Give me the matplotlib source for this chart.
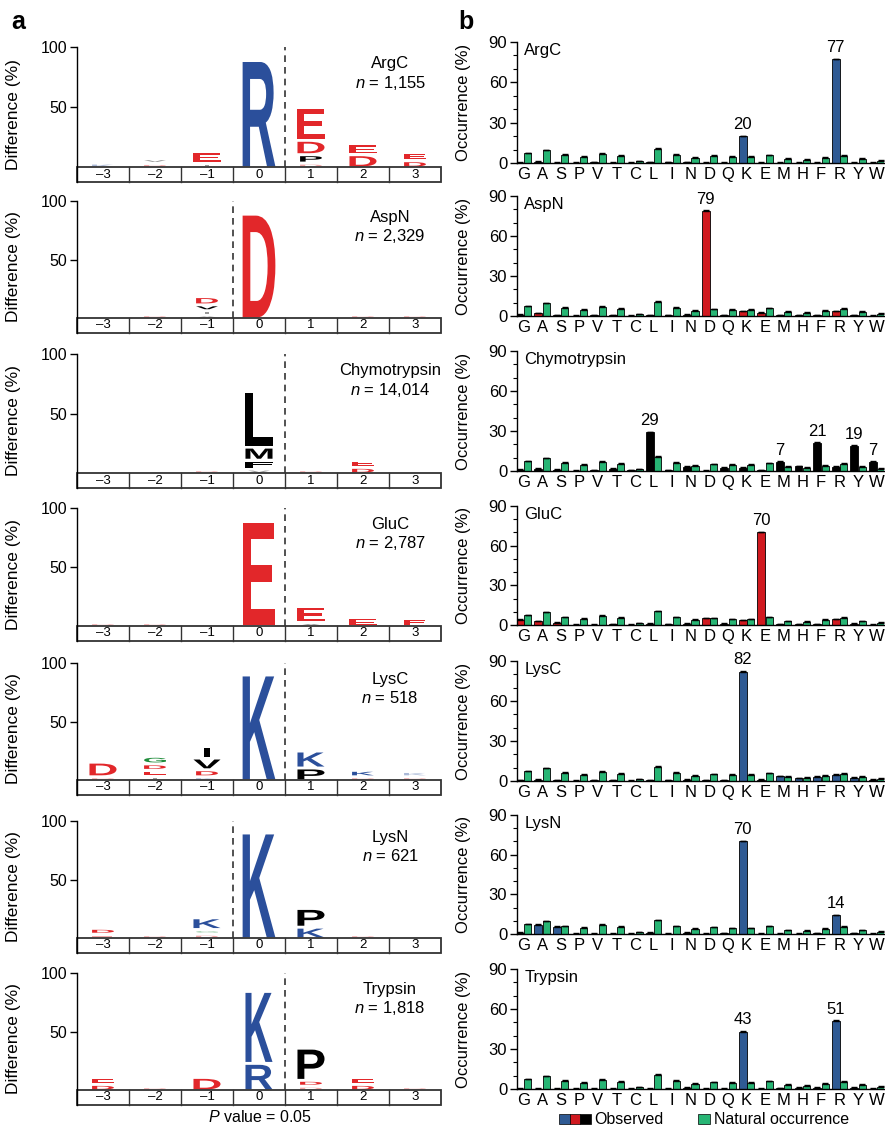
import matplotlib
matplotlib.use('Agg')
import matplotlib.pyplot as plt
from matplotlib.textpath import TextPath
from matplotlib.patches import PathPatch, Rectangle
from matplotlib.font_manager import FontProperties
from matplotlib.transforms import Affine2D
from matplotlib.ticker import MultipleLocator

plt.rcParams['font.family'] = ['Liberation Sans', 'DejaVu Sans']
plt.rcParams['mathtext.fontset'] = 'custom'
plt.rcParams['mathtext.it'] = 'Liberation Sans:italic'
plt.rcParams['mathtext.rm'] = 'Liberation Sans'

# ---- data ----
enzymes = ['ArgC', 'AspN', 'Chymotrypsin', 'GluC', 'LysC', 'LysN', 'Trypsin']
counts = ['1,155', '2,329', '14,014', '2,787', '518', '621', '1,818']
cut_site = [0.5, -0.5, 0.5, 0.5, 0.5, -0.5, 0.5]
positions = [-3, -2, -1, 0, 1, 2, 3]

# logo stacks, bottom to top: (residue, difference %)
logo_argc = {-3: [('K', 1.5)], -2: [('D', 1.2), ('V', 1.5)], -1: [('I', 1.5), ('E', 7)],
             0: [('R', 87)], 1: [('D', 1.5), ('P', 4.5), ('D', 9.5), ('E', 25)],
             2: [('D', 8.5), ('E', 6.5)], 3: [('D', 3.5), ('E', 4.5)]}
logo_aspn = {-2: [('D', 1)], -1: [('A', 0.8), ('I', 1.2), ('V', 2.5), ('D', 4.5)],
             0: [('D', 87)], 2: [('D', 1)], 3: [('D', 1)]}
logo_chymo = {-1: [('D', 1)], 0: [('V', 1.5), ('F', 5), ('M', 8.5), ('L', 44)],
              1: [('D', 1)], 2: [('D', 3), ('E', 3.5)]}
logo_gluc = {-3: [('D', 1)], -2: [('D', 1)], 0: [('E', 87)],
             1: [('A', 1.2), ('E', 11)], 2: [('E', 5.5)], 3: [('E', 4.5)]}
logo_lysc = {-3: [('D', 1), ('D', 10)], -2: [('I', 1.5), ('E', 2.5), ('D', 3), ('G', 4)],
             -1: [('K', 1), ('D', 3.5), ('V', 7.5), ('I', 7)], 0: [('K', 88)],
             1: [('P', 8.5), ('K', 12)], 2: [('D', 1), ('K', 3)], 3: [('D', 1), ('K', 2)]}
logo_lysn = {-3: [('E', 1.5), ('D', 2.5)], -2: [('D', 1)],
             -1: [('D', 1.5), ('G', 1.5), ('K', 7.5)], 0: [('K', 88)],
             1: [('K', 7.5), ('P', 13.5)], 2: [('D', 1)]}
logo_tryp = {-3: [('D', 3), ('E', 3.5)], -2: [('D', 1)], -1: [('D', 9)],
             0: [('R', 21), ('K', 59)], 1: [('D', 1.5), ('D', 2.5), ('P', 25)],
             2: [('D', 3), ('E', 3.5)], 3: [('D', 1)]}
logos = [logo_argc, logo_aspn, logo_chymo, logo_gluc, logo_lysc, logo_lysn, logo_tryp]

amino = list('GASPVTCLINDQKEMHFRYW')
natural = [7.3, 9.5, 6.0, 4.7, 7.0, 5.5, 1.3, 10.5, 6.0, 4.0, 5.2, 4.5, 4.5, 5.8, 3.0, 2.5, 4.0, 5.5, 3.0, 1.5]
obs_argc = [0.3, 1.0, 0.3, 0.2, 0.5, 0.3, 0.2, 0.5, 0.5, 0.7, 0.2, 0.2, 20, 0.3, 0.2, 0.2, 0.2, 77, 0.2, 0.2]
obs_aspn = [1.0, 2.0, 0.5, 0.3, 0.5, 0.5, 0.3, 0.5, 0.5, 1.0, 79, 0.5, 3.5, 2.5, 0.5, 0.5, 0.5, 3.5, 0.5, 0.3]
obs_chymo = [0.8, 1.5, 0.8, 0.3, 0.7, 1.5, 0.7, 29, 0.7, 3.0, 0.3, 2.5, 2.5, 0.7, 7, 3.5, 21, 3.0, 19, 7]
obs_gluc = [4.0, 3.0, 1.5, 0.3, 0.3, 0.5, 0.3, 1.0, 0.5, 1.0, 5.0, 1.0, 3.5, 70, 0.5, 0.7, 0.5, 4.5, 0.8, 0.3]
obs_lysc = [0.5, 0.8, 0.5, 0.3, 0.5, 0.5, 0.3, 0.7, 0.5, 1.0, 0.5, 0.5, 82, 0.8, 3.5, 2.0, 3.0, 4.5, 2.5, 1.0]
obs_lysn = [1.0, 7.0, 5.5, 0.3, 0.3, 0.3, 0.2, 1.0, 0.3, 1.0, 0.3, 0.5, 70, 0.3, 0.3, 0.3, 0.5, 14, 0.5, 0.3]
obs_tryp = [0.3, 0.3, 0.3, 0.2, 0.2, 0.3, 0.2, 0.3, 0.3, 1.0, 0.3, 0.3, 43, 0.3, 0.5, 1.0, 1.0, 51, 1.0, 0.3]
observed = [obs_argc, obs_aspn, obs_chymo, obs_gluc, obs_lysc, obs_lysn, obs_tryp]
labelled = [['K', 'R'], ['D'], ['L', 'M', 'F', 'Y', 'W'], ['E'], ['K'], ['K', 'R'], ['K', 'R']]

# ---- style ----
BLUE, RED, BLACK, GREEN = '#2b4f9b', '#e2272a', '#000000', '#1e8c3a'
obs_colors = ['#2f5a93', '#d0191f', '#000000', '#d0191f', '#2f5a93', '#2f5a93', '#2f5a93']
NAT = '#27b574'
res_color = {'K': BLUE, 'R': BLUE, 'H': BLUE, 'D': RED, 'E': RED,
             'G': GREEN, 'S': GREEN, 'T': GREEN, 'Y': GREEN, 'C': GREEN}
FP = FontProperties(family='Liberation Sans', weight='bold')
TABLE = 12.7
GAP = 2.5
FS = 12

W, H = 885, 1126
fig = plt.figure(figsize=(W / 100, H / 100), dpi=100)


def box(x0, top, x1, bottom):
    return [x0 / W, 1 - bottom / H, (x1 - x0) / W, (bottom - top) / H]


def letter(ax, ch, x, y0, h):
    w = 0.63 if h >= 60 else (0.52 if h >= 5 else 0.42)
    if ch == 'I':
        w *= 0.22
    tp = TextPath((0, 0), ch, size=1, prop=FP)
    bb = tp.get_extents()
    tr = Affine2D().translate(-bb.x0, -bb.y0).scale(w / bb.width, h / bb.height).translate(x - w / 2, y0)
    ax.add_patch(PathPatch(tr.transform_path(tp), fc=res_color.get(ch, BLACK), ec='none',
                           alpha=0.4 if h <= 2 else 1.0))


logo_tops = [47, 201, 354, 508, 663, 821, 973]
logo_base = [167, 318, 473, 626, 780, 938, 1090]
bar_tops = [42, 196, 351, 506, 661, 815, 969]
bar_base = [163, 316, 471, 625, 781, 934, 1089]

for i, name in enumerate(enzymes):
    # ---- a: logo ----
    top, base = logo_tops[i], logo_base[i]
    ax = fig.add_axes(box(77, top, 441, base + (base - top) * TABLE / 100))
    ax.set_xlim(-3.5, 3.5)
    ax.set_ylim(-TABLE, 100)
    for s in ['top', 'right', 'bottom']:
        ax.spines[s].set_visible(False)
    ax.spines['left'].set_linewidth(1.0)
    ax.set_xticks([])
    ax.set_yticks([50, 100])
    ax.tick_params(axis='y', direction='out', length=5, width=1, labelsize=11.5, pad=2)
    ax.yaxis.set_label_coords(-0.155, (50 + TABLE) / (100 + TABLE))
    ax.set_ylabel('Difference (%)', fontsize=12.5)
    for p, stack in logos[i].items():
        y = 0.5
        for ch, h in stack:
            letter(ax, ch, p, y, h)
            y += h + GAP
    ax.add_patch(Rectangle((-3.5, -TABLE), 7, TABLE, fill=False, ec='#333333', lw=1.3, clip_on=False))
    for p in positions[:-1]:
        ax.plot([p + 0.5, p + 0.5], [-TABLE, 0], color='#333333', lw=1.0, clip_on=False)
    for p in positions:
        ax.text(p, -TABLE / 2, str(p).replace('-', '\u2013'), ha='center', va='center', fontsize=9.5)
    ax.plot([cut_site[i]] * 2, [0, 100], color='#333333', lw=1.2, dashes=(4, 3))
    ax.text(0.86, 0.875, name, transform=ax.transAxes, ha='center', va='center', fontsize=FS)
    ax.text(0.86, 0.735, r'$n$ = ' + counts[i], transform=ax.transAxes, ha='center', va='center',
            fontsize=FS)

    # ---- b: bars ----
    ax = fig.add_axes(box(517, bar_tops[i], 884, bar_base[i]))
    x = list(range(len(amino)))
    ax.bar([v - 0.2 for v in x], observed[i], width=0.42, color=obs_colors[i], ec='black', lw=0.6)
    ax.bar([v + 0.23 for v in x], natural, width=0.38, color=NAT, ec='black', lw=0.6)
    ax.errorbar([v - 0.2 for v in x], observed[i], yerr=[[0] * 20, [0.4] * 20], fmt='none',
                ecolor='black', elinewidth=0.8, capsize=2)
    ax.errorbar([v + 0.23 for v in x], natural, yerr=[[0] * 20, [0.4] * 20], fmt='none',
                ecolor='black', elinewidth=0.8, capsize=2)
    ax.set_xlim(-0.35, 19.4)
    ax.set_ylim(0, 90)
    for s in ['top', 'right']:
        ax.spines[s].set_visible(False)
    ax.spines['left'].set_linewidth(1.0)
    ax.spines['bottom'].set_linewidth(1.0)
    ax.set_xticks(x)
    ax.set_xticklabels(amino, fontsize=FS)
    ax.tick_params(axis='x', length=0, pad=3)
    ax.yaxis.set_major_locator(MultipleLocator(30))
    ax.yaxis.set_minor_locator(MultipleLocator(10))
    ax.tick_params(axis='y', which='major', direction='out', length=5, width=1, labelsize=FS, pad=2)
    ax.tick_params(axis='y', which='minor', direction='out', length=3, width=0.8)
    ax.yaxis.set_label_coords(-0.125, 0.5)
    ax.set_ylabel('Occurrence (%)', fontsize=FS)
    ax.text(0.02, 0.995, name, transform=ax.transAxes, ha='left', va='top', fontsize=FS)
    for aa in labelled[i]:
        k = amino.index(aa)
        v = observed[i][k]
        ax.annotate(f'{v:g}', (k - 0.2, v), xytext=(0, 3), textcoords='offset points',
                    ha='center', va='bottom', fontsize=FS)

fig.text(18 / W, 1 - 22 / H, 'a', fontsize=18, fontweight='bold', ha='center', va='center')
fig.text(466 / W, 1 - 22 / H, 'b', fontsize=18, fontweight='bold', ha='center', va='center')
fig.text(260 / W, 1 - 1117 / H, r'$P$ value = 0.05', fontsize=11.5, ha='center', va='center')

# legend
ly = 1 - 1124 / H
for j, c in enumerate(['#2f5a93', '#d0191f', '#000000']):
    fig.add_artist(Rectangle(((559 + 10.5 * j) / W, ly), 10.5 / W, 10 / H, transform=fig.transFigure,
                             fc=c, ec='black', lw=0.5))
fig.add_artist(Rectangle((698 / W, ly), 12 / W, 10 / H, transform=fig.transFigure,
                         fc=NAT, ec='black', lw=0.5))
fig.text(594 / W, ly + 5 / H, 'Observed', fontsize=11.5, va='center', ha='left')
fig.text(714 / W, ly + 5 / H, 'Natural occurrence', fontsize=11.5, va='center', ha='left')

fig.savefig('out.png', dpi=100)
